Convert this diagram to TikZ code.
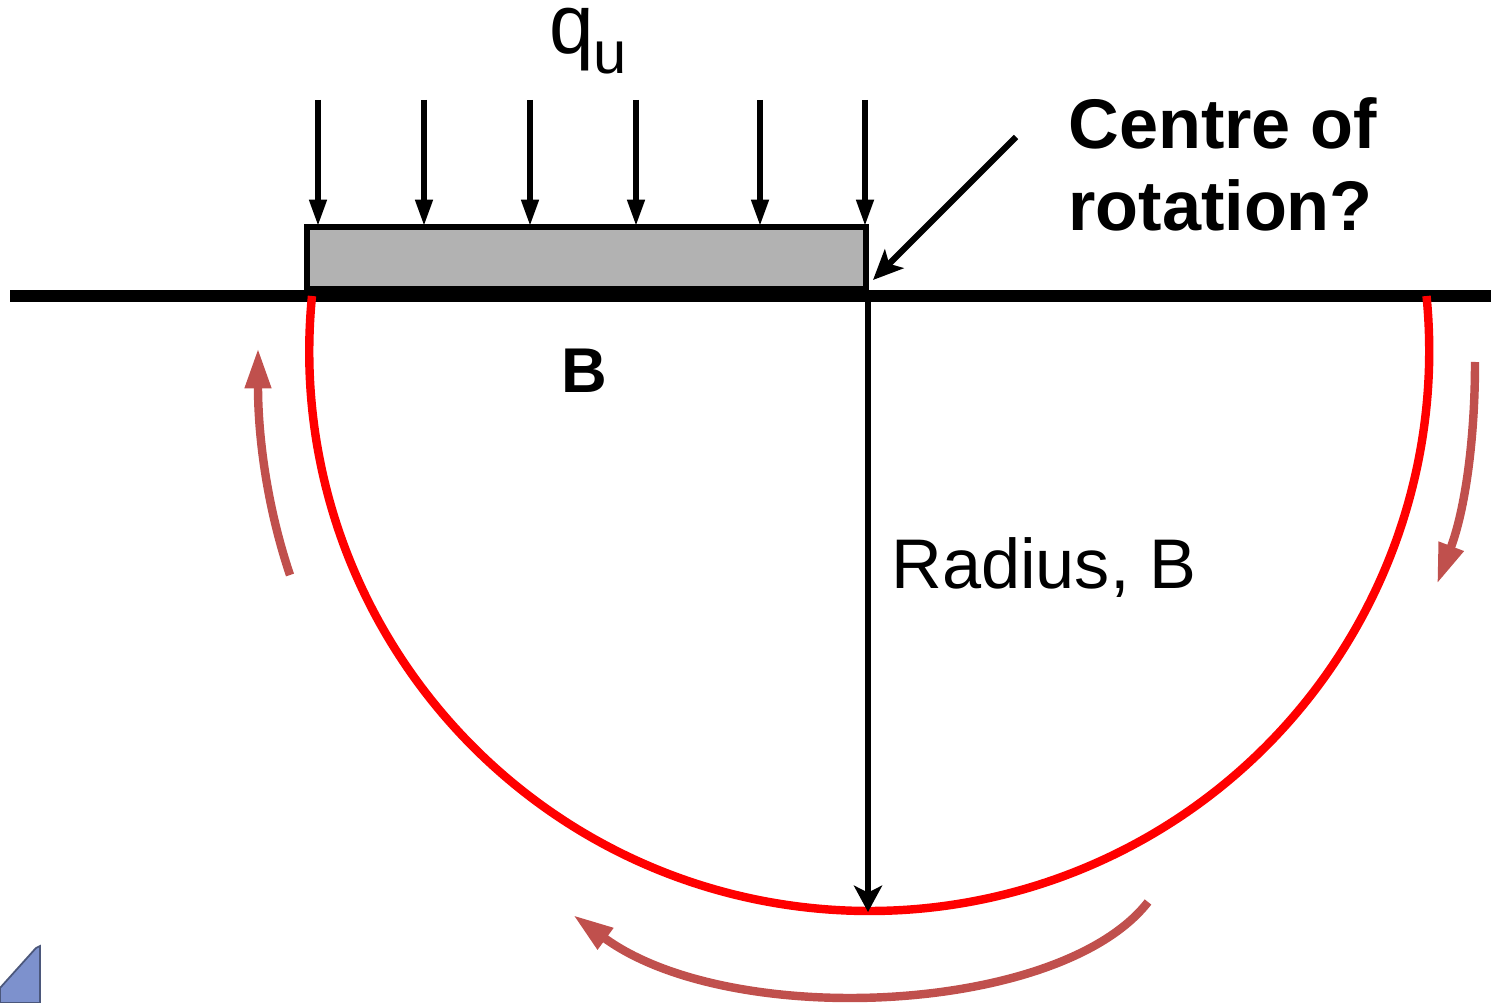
\documentclass[tikz,border=0pt]{standalone}
\usepackage{fontspec}
\setmainfont{Liberation Sans}
\usetikzlibrary{arrows.meta,positioning}
\definecolor{slip_red}{RGB}{255,0,0}
\definecolor{move_brown}{RGB}{192,80,77}
\definecolor{footing_grey}{RGB}{178,178,178}
\definecolor{corner_blue}{RGB}{125,145,205}

\begin{document}
\begin{tikzpicture}[x=0.02cm, y=-0.02cm,
    load/.style={line width=3.1pt, -{Triangle[length=15pt,width=9.5pt]}},
    movearrow/.style={move_brown, line width=4.8pt, -{Triangle[length=23pt,width=14pt]}},
    bigtext/.style={inner sep=0pt, font=\fontsize{40}{47}\selectfont}]
        \useasboundingbox (0,0) rectangle (1491,1003);
        % ground and footing
        \coordinate (gl) at (10,296);
        \coordinate (gr) at (1491,296);
        \draw[fill=footing_grey, line width=3.2pt] (307,227) rectangle (866,289);
        \draw[line width=6.5pt] (gl) -- (gr);
        % slip circle, centre a little below the ground
        \draw[slip_red, line width=4.8pt] (312,296)
          arc[start angle=185.64, end angle=-5.64, radius=560];
        % radius
        \coordinate (rot) at (868,299);
        \coordinate (bot) at (868,912);
        \draw[line width=3.4pt, -{Stealth[length=15pt,width=16pt,inset=4pt]}] (rot) -- (bot);
        \node[bigtext, anchor=base west] (radlab) at (891,588) {Radius, B};
        % load
        \foreach \x [count=\i] in {318,424,530,636,760,865} {
          \coordinate (qt\i) at (\x,100);
          \coordinate (qb\i) at (\x,226);
          \draw[load] (qt\i) -- (qb\i);
        }
        \node[inner sep=0pt, anchor=base west, font=\fontsize{48}{50}\selectfont] (qu) at (549,54)
          {\scalebox{0.95}[1]{q}\raisebox{-11pt}{\fontsize{34}{36}\selectfont u}};
        \node[inner sep=0pt, anchor=base, font=\fontsize{36}{40}\selectfont\bfseries] (blab) at (584,393) {B};
        % centre of rotation
        \node[bigtext, anchor=north west, align=left, font=\fontsize{40}{47}\selectfont\bfseries]
          (centre) at (1068,97) {Centre of\\rotation?};
        \coordinate (ptr) at (1016,137);
        \coordinate (corner) at (873,280);
        \draw[line width=3.6pt, -{Stealth[length=17pt,width=15pt,inset=4pt]}] (ptr) -- (corner);
        % movement of the soil
        \draw[movearrow] (290,575) .. controls (268,510) and (258,440) .. (258,348);
        \draw[movearrow] (1475,362) .. controls (1475,440) and (1465,510) .. (1437,584);
        \draw[movearrow] (1148,902) .. controls (1060,1015) and (730,1030) .. (573,915);
        % corner mark
        \fill[corner_blue, draw=corner_blue!60!black, line width=1pt]
          (0,988) -- (36,948) -- (40,946) -- (40,1003) -- (0,1003) -- cycle;
\end{tikzpicture}
\end{document}
